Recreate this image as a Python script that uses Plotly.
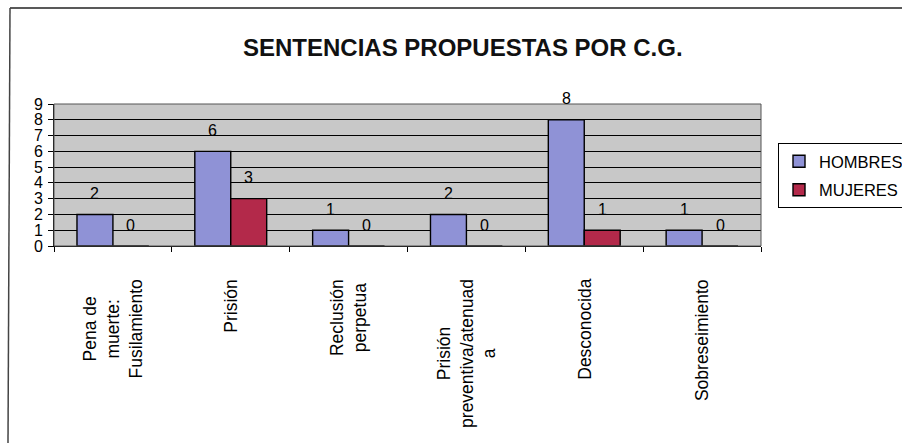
import plotly.graph_objects as go

categories = [
    "Pena de muerte: Fusilamiento",
    "Prisión",
    "Reclusión perpetua",
    "Prisión preventiva/atenuada",
    "Desconocida",
    "Sobreseimiento",
]
category_labels = [
    "Pena de<br>muerte:<br>Fusilamiento",
    "Prisión",
    "Reclusión<br>perpetua",
    "Prisión<br>preventiva/atenuad<br>a",
    "Desconocida",
    "Sobreseimiento",
]
hombres = [2, 6, 1, 2, 8, 1]
mujeres = [0, 3, 0, 0, 1, 0]
series_names = ["HOMBRES", "MUJERES"]
y_ticks = list(range(0, 10))

title_text = "SENTENCIAS PROPUESTAS POR C.G."

FONT = "Arial, Liberation Sans, sans-serif"
colors = ["#8f92d6", "#b3294a"]

plot_l, plot_r, plot_t, plot_b = 54, 761, 104, 246
pw, ph = plot_r - plot_l, plot_b - plot_t


def px_x(v):
    return (v - plot_l) / pw


def px_y(v):
    return (plot_b - v) / ph


fig = go.Figure()
for name, vals, col, grp in zip(series_names, [hombres, mujeres], colors, ["a", "b"]):
    fig.add_trace(go.Bar(
        x=categories, y=vals, name=name, legendgroup=grp,
        marker=dict(color=col, line=dict(color="black", width=1.4)),
    ))

annotations = []
# data labels
for vals, shift in [(hombres, -18), (mujeres, 18)]:
    for c, v in zip(categories, vals):
        annotations.append(dict(
            x=c, y=v, xref="x", yref="y", text=str(v), showarrow=False,
            xshift=shift, yshift=21, yanchor="middle",
            font=dict(family=FONT, size=16, color="black"),
        ))
# category labels (rotated, centred lines)
for c, lab in zip(categories, category_labels):
    annotations.append(dict(
        x=c, y=0, xref="x", yref="paper", text=lab, showarrow=False,
        textangle=-90, align="center", xanchor="center", yanchor="top",
        yshift=-31, font=dict(family=FONT, size=17.5, color="black"),
    ))
# title
annotations.append(dict(
    x=px_x(463), y=px_y(47), xref="paper", yref="paper",
    xanchor="center", yanchor="middle",
    text="<b>" + title_text + "</b>", showarrow=False,
    font=dict(family=FONT, size=24, color="#111"),
))

shapes = [
    dict(type="rect", xref="paper", yref="paper", x0=0, x1=1, y0=0, y1=1,
         line=dict(color="#555", width=1), layer="above"),
    dict(type="line", xref="paper", yref="paper",
         x0=px_x(10), x1=px_x(902), y0=px_y(8), y1=px_y(8),
         line=dict(color="#222", width=1.5)),
    dict(type="line", xref="paper", yref="paper",
         x0=px_x(10), x1=px_x(8), y0=px_y(8), y1=px_y(443),
         line=dict(color="#444", width=1.5)),
]

fig.update_layout(
    width=902, height=443,
    margin=dict(l=plot_l, r=902 - plot_r, t=plot_t, b=443 - plot_b, autoexpand=False),
    paper_bgcolor="white", plot_bgcolor="#c8c8c8",
    barmode="group", bargap=0.39, bargroupgap=0,
    font=dict(family=FONT, size=14, color="black"),
    showlegend=True,
    legend=dict(
        x=px_x(778), y=px_y(143), xanchor="left", yanchor="top",
        bordercolor="black", borderwidth=1, bgcolor="white",
        font=dict(family=FONT, size=16.5, color="black"),
        traceorder="grouped", tracegroupgap=4, itemwidth=30,
    ),
    annotations=annotations,
    shapes=shapes,
    xaxis=dict(
        type="category", ticks="outside", tickson="boundaries",
        ticklen=5, tickcolor="black", showline=True, linecolor="black",
        showgrid=False, showticklabels=False,
    ),
    yaxis=dict(
        range=[0, 9], tickvals=y_ticks, ticks="outside", ticklen=5, tickcolor="black",
        showline=True, linecolor="black", showgrid=True, gridcolor="black", gridwidth=1,
        zeroline=False, tickfont=dict(family=FONT, size=16), ticklabelstandoff=2,
    ),
)

fig.write_html("out.html", config={"displayModeBar": False},
               post_script="document.body.style.margin='0px';")
